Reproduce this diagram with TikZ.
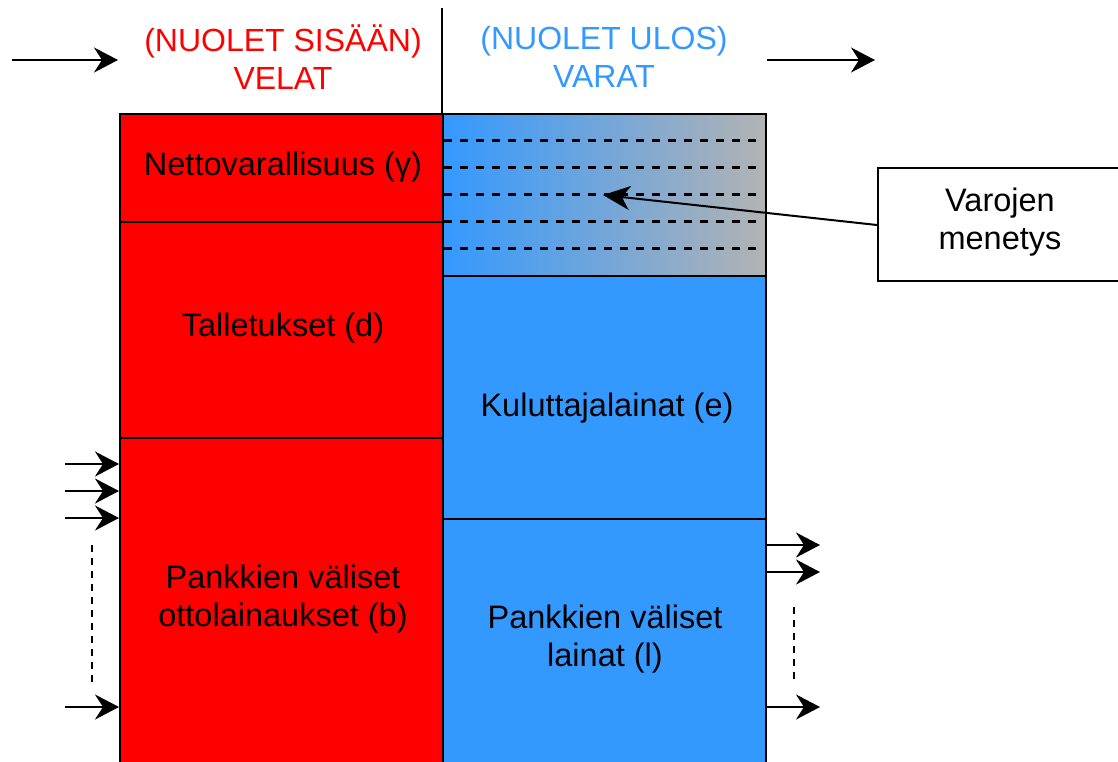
\documentclass[tikz,border=0pt]{standalone}
\usepackage{fontspec}
\setmainfont{Liberation Sans}
\usetikzlibrary{arrows.meta,shadings}
\definecolor{liab}{HTML}{FF0000}
\definecolor{asset}{HTML}{3399FF}
\definecolor{lossgray}{HTML}{B3B3B3}
\tikzset{
  every node/.style={font=\fontsize{32.5}{38}\selectfont, align=center, inner sep=0pt},
  headtext/.style={font=\fontsize{32}{38.5}\selectfont},
  block/.style={draw=black, line width=2pt, anchor=north west, minimum width=323pt},
  redblock/.style={block, fill=liab},
  blueblock/.style={block, fill=asset},
  flow/.style={line width=2pt, -{Stealth[length=24pt, width=25pt, inset=8pt]}},
  lossline/.style={line width=2.6pt, dash pattern=on 8pt off 8pt},
  gapmark/.style={line width=2pt, dash pattern=on 7pt off 6pt},
}
\begin{document}
\begin{tikzpicture}[x=1pt, y=-1pt]
\useasboundingbox (0,0) rectangle (1118,761);

% headings
\draw[line width=2pt] (442,8) -- (442,113);
\node[headtext, text=liab] (hin) at (283,57) {(NUOLET SISÄÄN)\\VELAT};
\node[headtext, text=asset] (hout) at (604,57) {(NUOLET ULOS)\\VARAT};
\coordinate (tinA) at (12,60);
\coordinate (tinB) at (118,60);
\coordinate (toutA) at (767,60);
\coordinate (toutB) at (875,60);
\draw[flow] (tinA) -- (tinB);
\draw[flow] (toutA) -- (toutB);

% liabilities column
\node[redblock, minimum height=108pt] (nv) at (119,113) {};
\node[redblock, minimum height=216pt] (dep) at (119,221) {};
\node[redblock, minimum height=330pt] (bor) at (119,437) {};
\node (nvt) at (283,167) {Nettovarallisuus (γ)};
\node (dept) at (283,328) {Talletukset (d)};
\node (bort) at (283,599) {Pankkien väliset\\ottolainaukset (b)};

% assets column
\node[block, minimum height=162pt, left color=asset, right color=lossgray] (loss) at (442,113) {};
\foreach \yy in {140.5,167.5,194.5,221.5,248.5}
  \draw[lossline] (444,\yy) -- (760,\yy);
\node[blueblock, minimum height=243pt] (cons) at (442,275) {};
\node[blueblock, minimum height=249pt] (ibl) at (442,518) {};
\node (const) at (607,408) {Kuluttajalainat (e)};
\node (iblt) at (605,639) {Pankkien väliset\\lainat (l)};

% loss annotation
\node[draw=black, line width=2pt, fill=white, anchor=north west,
      minimum width=246pt, minimum height=113pt] (menetys) at (877,167) {};
\node (menetyst) at (1000,222) {Varojen\\menetys};
\coordinate (losstip) at (603,195);
\draw[line width=2pt, -{Stealth[length=27pt, width=24pt, inset=8pt]}] (menetys.west) ++(0,0.5) -- (losstip);

% incoming interbank flows
\foreach \nm/\yy in {i1/464, i2/491, i3/518, i4/707}{
  \coordinate (\nm) at (65,\yy);
  \draw[flow] (\nm) -- (bor.west |- \nm);
}
\coordinate (ig1) at (92,545);
\coordinate (ig2) at (92,682);
\draw[gapmark] (ig1) -- (ig2);

% outgoing interbank flows
\foreach \nm/\yy in {o1/545, o2/572, o3/707}{
  \coordinate (\nm) at (820,\yy);
  \draw[flow] (ibl.east |- \nm) -- (\nm);
}
\coordinate (og1) at (794,607);
\coordinate (og2) at (794,682);
\draw[gapmark] (og1) -- (og2);
\end{tikzpicture}
\end{document}
